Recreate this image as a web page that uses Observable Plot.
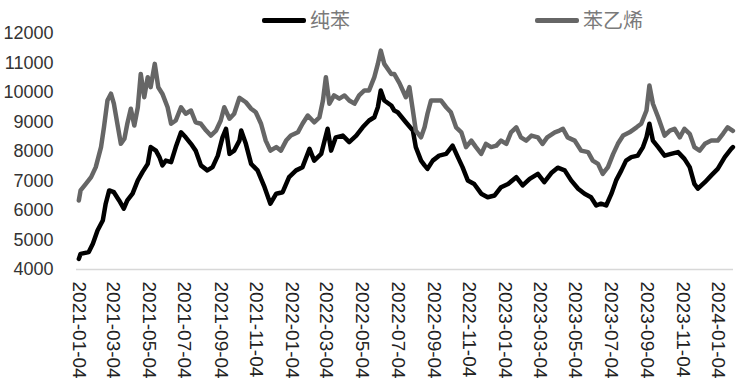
<!DOCTYPE html>
<html>
<head>
<meta charset="utf-8">
<script src="https://cdn.jsdelivr.net/npm/d3@7"></script>
<script src="https://cdn.jsdelivr.net/npm/@observablehq/plot@0.6"></script>
<style>
  html, body { margin: 0; padding: 0; background: #fff; }
  #wrap { position: relative; width: 741px; height: 391px; overflow: hidden; font-family: "Liberation Sans", Arial, sans-serif; }
  #legend { position: relative; width: 741px; height: 28px; }
  .item { position: absolute; top: 9px; display: flex; align-items: center; font-family: "Noto Sans CJK SC", sans-serif; font-size: 20px; line-height: 22px; color: #7a7a7a; }
  .swatch { display: inline-block; width: 44px; height: 5px; border-radius: 2px; margin-right: 4px; }
</style>
</head>
<body>
<div id="wrap">
  <div id="legend"></div>
  <div id="chart"></div>
</div>
<script>
const seriesNames = ["纯苯", "苯乙烯"];
const seriesColors = ["#000000", "#666666"];

const yTicks = [4000, 5000, 6000, 7000, 8000, 9000, 10000, 11000, 12000];
const xTickLabels = ["2021-01-04","2021-03-04","2021-05-04","2021-07-04","2021-09-04","2021-11-04",
  "2022-01-04","2022-03-04","2022-05-04","2022-07-04","2022-09-04","2022-11-04",
  "2023-01-04","2023-03-04","2023-05-04","2023-07-04","2023-09-04","2023-11-04","2024-01-04"];

// 纯苯
const benzeneDates = ["2021-01-04","2021-01-07","2021-01-21","2021-01-28","2021-02-05","2021-02-14","2021-02-19","2021-02-25",
  "2021-03-05","2021-03-14","2021-03-22","2021-03-28","2021-04-06","2021-04-15","2021-04-23","2021-05-02","2021-05-07",
  "2021-05-16","2021-05-22","2021-05-27","2021-06-02","2021-06-11","2021-06-19","2021-06-28","2021-07-06","2021-07-15",
  "2021-07-23","2021-08-01","2021-08-12","2021-08-21","2021-08-30","2021-09-07","2021-09-13","2021-09-19","2021-09-27",
  "2021-10-06","2021-10-09","2021-10-17","2021-10-26","2021-11-06","2021-11-18","2021-11-28","2021-12-08","2021-12-19",
  "2021-12-30","2022-01-11","2022-01-22","2022-02-03","2022-02-11","2022-02-23","2022-03-06","2022-03-12","2022-03-20",
  "2022-04-01","2022-04-12","2022-04-24","2022-05-05","2022-05-16","2022-05-25","2022-05-31","2022-06-05","2022-06-11",
  "2022-06-23","2022-06-28","2022-07-04","2022-07-18","2022-07-30","2022-08-04","2022-08-13","2022-08-19","2022-08-24",
  "2022-09-02","2022-09-13","2022-09-25","2022-10-06","2022-10-15","2022-10-23","2022-11-01","2022-11-12","2022-11-24",
  "2022-12-05","2022-12-17","2022-12-28","2023-01-09","2023-01-23","2023-02-03","2023-02-15","2023-03-01","2023-03-12",
  "2023-03-24","2023-04-04","2023-04-16","2023-04-27","2023-05-09","2023-05-20","2023-05-31","2023-06-09","2023-06-17",
  "2023-06-26","2023-07-05","2023-07-13","2023-07-22","2023-07-30","2023-08-08","2023-08-19","2023-08-28","2023-09-03",
  "2023-09-08","2023-09-14","2023-09-23","2023-10-04","2023-10-15","2023-10-27","2023-11-07","2023-11-16","2023-11-24",
  "2023-11-30","2023-12-12","2023-12-23","2024-01-03","2024-01-15","2024-01-26","2024-01-29"];
const benzeneValues = [4360,4530,4590,4870,5320,5660,6230,6680,
  6620,6340,6060,6340,6570,7020,7300,7580,8150,
  8030,7810,7530,7690,7640,8150,8650,8480,8260,
  8030,7530,7360,7470,7860,8480,8770,7920,8030,
  8370,8710,8260,7580,7360,6790,6230,6570,6620,
  7130,7360,7470,8090,7690,7920,8770,8030,8480,
  8540,8320,8540,8820,9050,9160,9500,10070,9730,
  9560,9390,9330,8990,8710,8150,7690,7530,7410,
  7690,7860,7920,8200,7810,7470,7020,6900,6570,
  6450,6510,6790,6900,7130,6850,7070,7240,6960,
  7270,7450,7360,7020,6740,6570,6450,6170,6230,
  6170,6570,7020,7360,7690,7810,7860,8150,8480,
  8940,8370,8150,7860,7920,7980,7750,7470,6900,
  6740,6960,7190,7410,7810,8090,8150];

// 苯乙烯
const styreneDates = ["2021-01-04","2021-01-07","2021-01-16","2021-01-25","2021-02-02","2021-02-11","2021-02-16","2021-02-22",
  "2021-02-28","2021-03-05","2021-03-11","2021-03-17","2021-03-23","2021-03-28","2021-04-03","2021-04-09","2021-04-15",
  "2021-04-20","2021-04-26","2021-05-02","2021-05-07","2021-05-14","2021-05-20","2021-05-27","2021-06-05","2021-06-11",
  "2021-06-19","2021-06-28","2021-07-06","2021-07-15","2021-07-23","2021-08-01","2021-08-10","2021-08-18","2021-08-27",
  "2021-09-04","2021-09-10","2021-09-19","2021-09-27","2021-10-06","2021-10-17","2021-10-26","2021-11-03","2021-11-12",
  "2021-11-20","2021-11-28","2021-12-08","2021-12-16","2021-12-25","2022-01-02","2022-01-14","2022-01-22","2022-01-31",
  "2022-02-11","2022-02-20","2022-02-26","2022-03-03","2022-03-09","2022-03-17","2022-03-26","2022-04-04","2022-04-12",
  "2022-04-21","2022-04-29","2022-05-08","2022-05-16","2022-05-25","2022-05-31","2022-06-05","2022-06-11","2022-06-23",
  "2022-06-28","2022-07-07","2022-07-18","2022-07-24","2022-07-30","2022-08-04","2022-08-13","2022-08-19","2022-08-24",
  "2022-08-30","2022-09-08","2022-09-16","2022-09-25","2022-10-03","2022-10-12","2022-10-21","2022-10-29","2022-11-07",
  "2022-11-15","2022-11-24","2022-12-02","2022-12-11","2022-12-20","2022-12-28","2023-01-06","2023-01-14","2023-01-23",
  "2023-01-31","2023-02-09","2023-02-18","2023-03-01","2023-03-09","2023-03-17","2023-03-30","2023-04-07","2023-04-13",
  "2023-04-21","2023-05-03","2023-05-14","2023-05-26","2023-06-03","2023-06-12","2023-06-20","2023-06-29","2023-07-08",
  "2023-07-16","2023-07-25","2023-08-05","2023-08-17","2023-08-25","2023-09-03","2023-09-08","2023-09-14","2023-09-23",
  "2023-10-04","2023-10-13","2023-10-21","2023-10-30","2023-11-07","2023-11-16","2023-11-24","2023-12-03","2023-12-12",
  "2023-12-23","2024-01-03","2024-01-12","2024-01-20","2024-01-29"];
const styreneValues = [6340,6680,6900,7130,7470,8150,8820,9730,
  9960,9620,8940,8260,8430,8940,9450,8880,9500,
  10630,9840,10520,10180,10970,10180,9960,9500,8940,
  9050,9500,9280,9390,8990,8940,8710,8540,8710,
  9050,9500,9110,9280,9820,9670,9450,9330,8940,
  8370,8030,8150,8030,8370,8540,8650,8940,9220,
  8990,9160,9730,10520,9620,9900,9790,9900,9730,
  9620,9900,10070,10070,10520,10970,11420,10970,10630,
  10630,10320,9840,10180,9390,8710,8480,8820,9280,
  9730,9730,9730,9500,9330,8820,8650,8150,8370,
  8150,7920,8260,8150,8200,8370,8260,8650,8820,
  8480,8370,8540,8480,8260,8480,8650,8710,8770,
  8480,8370,8030,7980,7690,7580,7240,7470,7920,
  8260,8540,8650,8820,8940,9390,10240,9620,9160,
  8540,8710,8770,8480,8770,8600,8150,8030,8260,
  8370,8370,8600,8820,8700];

const parse = d3.utcParse("%Y-%m-%d");
const benzene = benzeneDates.map((d, i) => ({date: parse(d), value: benzeneValues[i]}));
const styrene = styreneDates.map((d, i) => ({date: parse(d), value: styreneValues[i]}));
const xTicks = xTickLabels.map(parse);

// legend
const legend = document.getElementById("legend");
const legendLeft = [262, 535];
seriesNames.forEach((name, i) => {
  const it = document.createElement("div");
  it.className = "item";
  it.style.left = legendLeft[i] + "px";
  const sw = document.createElement("span");
  sw.className = "swatch";
  sw.style.background = seriesColors[i];
  it.appendChild(sw);
  it.appendChild(document.createTextNode(name));
  legend.appendChild(it);
});

const chart = Plot.plot({
  width: 741,
  height: 363,
  marginLeft: 76,
  marginRight: 8,
  marginTop: 5,
  marginBottom: 122,
  style: {fontFamily: "'Liberation Sans', Arial, sans-serif", background: "transparent", overflow: "visible"},
  x: {type: "utc", domain: [parse("2020-12-31"), parse("2024-01-30")]},
  y: {domain: [4000, 12000]},
  marks: [
    Plot.ruleY([4000], {stroke: "#d8d8d8", strokeWidth: 1.5}),
    Plot.axisY({ticks: yTicks, tickSize: 0, tickPadding: 23, fontSize: 18, fill: "#333", tickFormat: d => String(d), label: null}),
    Plot.axisX({ticks: xTicks, tickSize: 0, tickPadding: 12, tickRotate: 90, fontSize: 19, fill: "#222",
      tickFormat: d3.utcFormat("%Y-%m-%d"), label: null}),
    Plot.line(benzene, {x: "date", y: "value", stroke: seriesColors[0], strokeWidth: 4.5, strokeLinejoin: "round"}),
    Plot.line(styrene, {x: "date", y: "value", stroke: seriesColors[1], strokeWidth: 4.5, strokeLinejoin: "round"})
  ]
});
document.getElementById("chart").appendChild(chart);
</script>
</body>
</html>
